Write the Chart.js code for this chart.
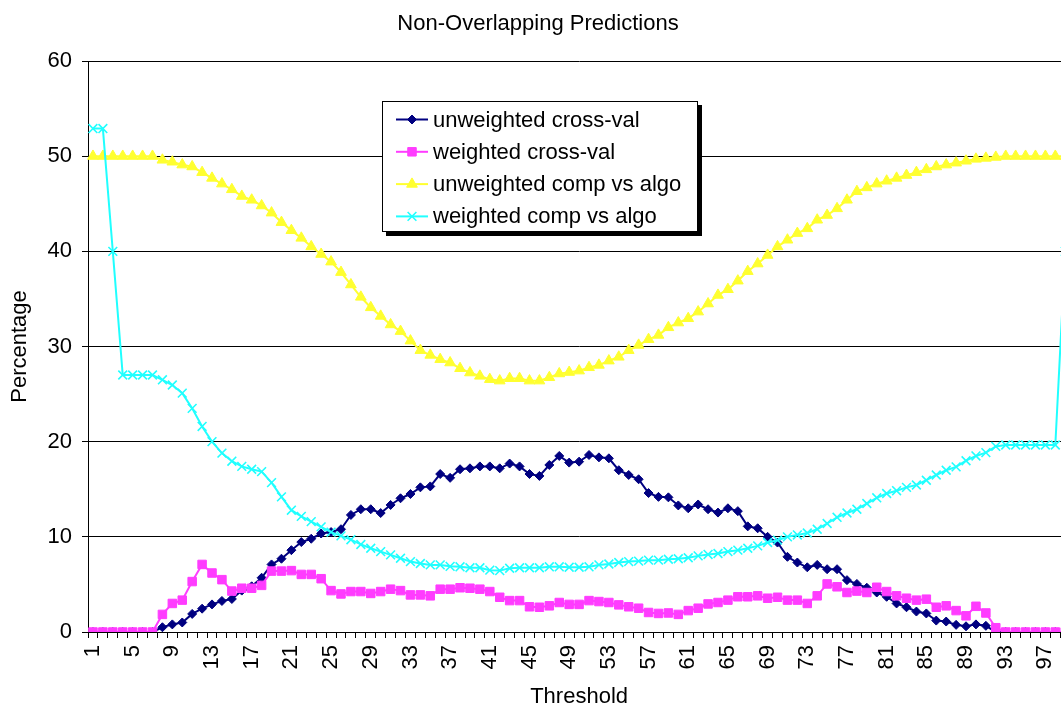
<!DOCTYPE html>
<html>
<head>
<meta charset="utf-8">
<title>Non-Overlapping Predictions</title>
<script src="https://cdn.jsdelivr.net/npm/chart.js@4.4.1/dist/chart.umd.min.js"></script>
<style>
  html, body { margin: 0; padding: 0; background: #fff; overflow: hidden; }
  /* The plot runs slightly past the right edge of the window, so the last threshold is cut off */
  #wrap { width: 1078px; height: 708px; }
  canvas { display: block; }
</style>
</head>
<body>
<div id="wrap"><canvas id="chart" width="1078" height="708"></canvas></div>
<script>
// Threshold categories along the x axis
const thresholds = [
  1, 2, 3, 4, 5, 6, 7, 8, 9, 10, 11, 12, 13, 14, 15, 16, 17, 18, 19, 20,
  21, 22, 23, 24, 25, 26, 27, 28, 29, 30, 31, 32, 33, 34, 35, 36, 37, 38, 39, 40,
  41, 42, 43, 44, 45, 46, 47, 48, 49, 50, 51, 52, 53, 54, 55, 56, 57, 58, 59, 60,
  61, 62, 63, 64, 65, 66, 67, 68, 69, 70, 71, 72, 73, 74, 75, 76, 77, 78, 79, 80,
  81, 82, 83, 84, 85, 86, 87, 88, 89, 90, 91, 92, 93, 94, 95, 96, 97, 98, 99
];

// Thresholds that carry a visible tick label
const tickLabels = [1, 5, 9, 13, 17, 21, 25, 29, 33, 37, 41, 45, 49, 53, 57, 61, 65, 69, 73, 77, 81, 85, 89, 93, 97];

// Percentage of non-overlapping predictions per threshold
const unweightedCrossVal = [
  0, 0, 0, 0, 0, 0, 0,
  0.5, 0.8, 1.0, 1.9, 2.45, 2.9, 3.26, 3.47,
  4.35, 4.8, 5.7, 7.1, 7.7, 8.6, 9.45, 9.8, 10.35, 10.5,
  10.8, 12.3, 12.9, 12.9, 12.5, 13.35, 14.05, 14.5, 15.2, 15.3,
  16.6, 16.2, 17.1, 17.2, 17.4, 17.4, 17.2, 17.7, 17.4, 16.6,
  16.4, 17.55, 18.5, 17.8, 17.9, 18.6, 18.35, 18.25, 17.0, 16.5,
  16.05, 14.6, 14.2, 14.15, 13.3, 13.0, 13.4, 12.9, 12.55, 13.0,
  12.7, 11.1, 10.9, 10.0, 9.4, 7.9, 7.3, 6.8, 7.05, 6.6,
  6.6, 5.45, 5.05, 4.65, 4.15, 3.7, 3.0, 2.6, 2.15, 1.95,
  1.2, 1.1, 0.75, 0.6, 0.8, 0.65, 0, 0, 0, 0,
  0, 0, 0, 0
];

const weightedCrossVal = [
  0, 0, 0, 0, 0, 0, 0,
  1.85, 3.0, 3.35, 5.3, 7.1, 6.2, 5.5, 4.3,
  4.6, 4.6, 4.9, 6.4, 6.4, 6.45, 6.05, 6.05, 5.6, 4.35,
  4.0, 4.25, 4.25, 4.05, 4.25, 4.5, 4.35, 3.9, 3.9, 3.8,
  4.5, 4.5, 4.65, 4.6, 4.5, 4.25, 3.65, 3.3, 3.3, 2.65,
  2.6, 2.75, 3.1, 2.9, 2.9, 3.3, 3.2, 3.1, 2.85, 2.65,
  2.5, 2.05, 1.95, 2.0, 1.85, 2.25, 2.5, 2.95, 3.1, 3.35,
  3.7, 3.7, 3.8, 3.55, 3.65, 3.35, 3.35, 3.0, 3.8, 5.05,
  4.75, 4.15, 4.3, 4.15, 4.7, 4.25, 3.8, 3.55, 3.35, 3.45,
  2.6, 2.75, 2.25, 1.7, 2.7, 2.0, 0.45, 0, 0, 0,
  0, 0, 0, 0
];

const unweightedCompVsAlgo = [
  50, 50, 50, 50, 50, 50, 50,
  49.6, 49.4, 49.1, 48.9, 48.3, 47.7, 47.1, 46.5,
  45.8, 45.4, 44.8, 44.05, 43.05, 42.2, 41.4, 40.5, 39.7, 38.9,
  37.8, 36.5, 35.2, 34.1, 33.2, 32.3, 31.6, 30.6, 29.6, 29.1,
  28.65, 28.3, 27.7, 27.25, 26.9, 26.55, 26.4, 26.65, 26.65, 26.4,
  26.4, 26.75, 27.15, 27.3, 27.45, 27.8, 28.05, 28.5, 28.9, 29.6,
  30.15, 30.75, 31.2, 32.0, 32.5, 32.95, 33.65, 34.5, 35.4, 36.0,
  36.9, 37.9, 38.7, 39.6, 40.5, 41.2, 41.9, 42.4, 43.3, 43.8,
  44.5, 45.4, 46.3, 46.7, 47.1, 47.4, 47.7, 48.0, 48.3, 48.6,
  48.9, 49.1, 49.3, 49.5, 49.7, 49.8, 49.9, 50, 50, 50,
  50, 50, 50, 50
];

const weightedCompVsAlgo = [
  52.9, 52.9, 40.0, 27.0, 27.0, 27.0, 27.0,
  26.5, 25.95, 25.1, 23.5, 21.6, 20.0, 18.8, 17.95,
  17.4, 17.1, 16.85, 15.7, 14.2, 12.8, 12.15, 11.6, 11.05, 10.5,
  10.1, 9.7, 9.2, 8.8, 8.45, 8.1, 7.75, 7.4, 7.2, 7.05,
  7.05, 6.9, 6.85, 6.75, 6.75, 6.5, 6.45, 6.7, 6.75, 6.75,
  6.75, 6.85, 6.85, 6.8, 6.8, 6.85, 7.05, 7.15, 7.3, 7.4,
  7.45, 7.55, 7.55, 7.65, 7.7, 7.8, 8.0, 8.15, 8.25, 8.45,
  8.6, 8.8, 9.05, 9.4, 9.65, 10.0, 10.2, 10.4, 10.8, 11.4,
  12.05, 12.5, 12.9, 13.5, 14.1, 14.55, 14.85, 15.2, 15.45, 15.95,
  16.5, 17.0, 17.35, 18.0, 18.5, 18.85, 19.5, 19.65, 19.65, 19.65,
  19.65, 19.65, 19.65, 40
];

const seriesNames = ['unweighted cross-val', 'weighted cross-val', 'unweighted comp vs algo', 'weighted comp vs algo'];

const FONT = "'Liberation Sans', Arial, Helvetica, sans-serif";
Chart.defaults.font.family = FONT;
Chart.defaults.color = '#000';

// Draws a marker shape with the same geometry Chart.js uses for its point styles
function drawMarker(ctx, style, x, y, r, color, lw) {
  ctx.save();
  ctx.fillStyle = color;
  ctx.strokeStyle = color;
  ctx.lineWidth = lw;
  ctx.beginPath();
  if (style === 'rectRot') {
    ctx.moveTo(x - r, y); ctx.lineTo(x, y - r); ctx.lineTo(x + r, y); ctx.lineTo(x, y + r);
    ctx.closePath(); ctx.fill(); ctx.stroke();
  } else if (style === 'rect') {
    const s = Math.SQRT1_2 * r;
    ctx.rect(x - s, y - s, 2 * s, 2 * s); ctx.fill(); ctx.stroke();
  } else if (style === 'triangle') {
    const a = 2 * Math.PI / 3;
    ctx.moveTo(x, y - r);
    ctx.lineTo(x + Math.sin(a) * r, y - Math.cos(a) * r);
    ctx.lineTo(x + Math.sin(2 * a) * r, y - Math.cos(2 * a) * r);
    ctx.closePath(); ctx.fill(); ctx.stroke();
  } else if (style === 'crossRot') {
    const o = Math.SQRT1_2 * r;
    ctx.moveTo(x - o, y - o); ctx.lineTo(x + o, y + o);
    ctx.moveTo(x - o, y + o); ctx.lineTo(x + o, y - o);
    ctx.stroke();
  }
  ctx.restore();
}

// Boxed legend with a drop shadow, placed inside the plot area
const boxLegend = {
  id: 'boxLegend',
  afterDraw(chart) {
    const ctx = chart.ctx;
    const x0 = 382, y0 = 101, w = 315, h = 130;
    ctx.save();
    ctx.fillStyle = '#000';
    ctx.fillRect(x0 + 4, y0 + 4, w + 1, h + 1);
    ctx.fillStyle = '#fff';
    ctx.fillRect(x0, y0, w, h);
    ctx.strokeStyle = '#000';
    ctx.lineWidth = 1;
    ctx.strokeRect(x0 + 0.5, y0 + 0.5, w, h);
    ctx.font = '22px ' + FONT;
    ctx.textBaseline = 'middle';
    ctx.textAlign = 'left';
    chart.data.datasets.forEach((ds, i) => {
      const y = y0 + 18.5 + i * 32.3;
      ctx.strokeStyle = ds.borderColor;
      ctx.lineWidth = ds.borderWidth;
      ctx.beginPath();
      ctx.moveTo(x0 + 14, y);
      ctx.lineTo(x0 + 46, y);
      ctx.stroke();
      drawMarker(ctx, ds.pointStyle, x0 + 30, y, ds.pointRadius, ds.borderColor, ds.pointBorderWidth);
      ctx.fillStyle = '#000';
      ctx.fillText(ds.label, x0 + 51, y + 1);
    });
    ctx.restore();
  }
};

const seriesValues = [unweightedCrossVal, weightedCrossVal, unweightedCompVsAlgo, weightedCompVsAlgo];
const seriesColors = ['#000080', '#ff3cff', '#ffff30', '#20ffff'];
const seriesMarkers = ['rectRot', 'rect', 'triangle', 'crossRot'];
const markerRadius = [4.5, 6, 6.2, 6.2];
const markerLine = [1, 1, 1, 1.6];

const datasets = seriesNames.map((name, i) => ({
  label: name,
  data: seriesValues[i],
  borderColor: seriesColors[i],
  backgroundColor: seriesColors[i],
  borderWidth: 2,
  pointStyle: seriesMarkers[i],
  pointRadius: markerRadius[i],
  pointBorderWidth: markerLine[i],
  pointBackgroundColor: seriesColors[i],
  pointBorderColor: seriesColors[i],
  tension: 0,
  fill: false,
  order: seriesNames.length - i
}));

new Chart(document.getElementById('chart'), {
  type: 'line',
  data: { labels: thresholds.map(String), datasets },
  plugins: [boxLegend],
  options: {
    responsive: false,
    animation: false,
    events: [],
    devicePixelRatio: 1,
    layout: { padding: { left: 0, right: 2, top: 0, bottom: 0 } },
    plugins: {
      legend: { display: false },
      tooltip: { enabled: false },
      title: {
        display: true,
        text: 'Non-Overlapping Predictions',
        color: '#000',
        font: { size: 22, weight: 'normal', lineHeight: 1.2 },
        padding: { top: 11, bottom: 23.6 }
      }
    },
    scales: {
      x: {
        type: 'category',
        offset: true,
        grid: { offset: true, drawOnChartArea: false, drawTicks: true, tickLength: 6, color: '#000', lineWidth: 1 },
        border: { display: true, color: '#000', width: 1 },
        ticks: {
          autoSkip: false,
          maxRotation: 90,
          minRotation: 90,
          padding: 7,
          color: '#000',
          font: { size: 22 },
          callback(value) {
            const lab = this.getLabelForValue(value);
            return tickLabels.includes(Number(lab)) ? lab : '';
          }
        },
        title: {
          display: true,
          text: 'Threshold',
          color: '#000',
          font: { size: 22, lineHeight: 1.0 },
          padding: { top: 0, bottom: 0 }
        },
        afterFit(scale) {
          scale.height = 76;
          scale.paddingLeft = 0;
          scale.paddingRight = 0;
        }
      },
      y: {
        min: 0,
        max: 60,
        ticks: { stepSize: 10, padding: 10, color: '#000', font: { size: 22 } },
        grid: { color: '#000', lineWidth: 1, tickLength: 6, drawTicks: true },
        border: { display: true, color: '#000', width: 1 },
        title: {
          display: true,
          text: 'Percentage',
          color: '#000',
          font: { size: 22, lineHeight: 1.2 },
          padding: { top: 7, bottom: 0 }
        },
        afterFit(scale) { scale.width = 88; }
      }
    }
  }
});
</script>
</body>
</html>
